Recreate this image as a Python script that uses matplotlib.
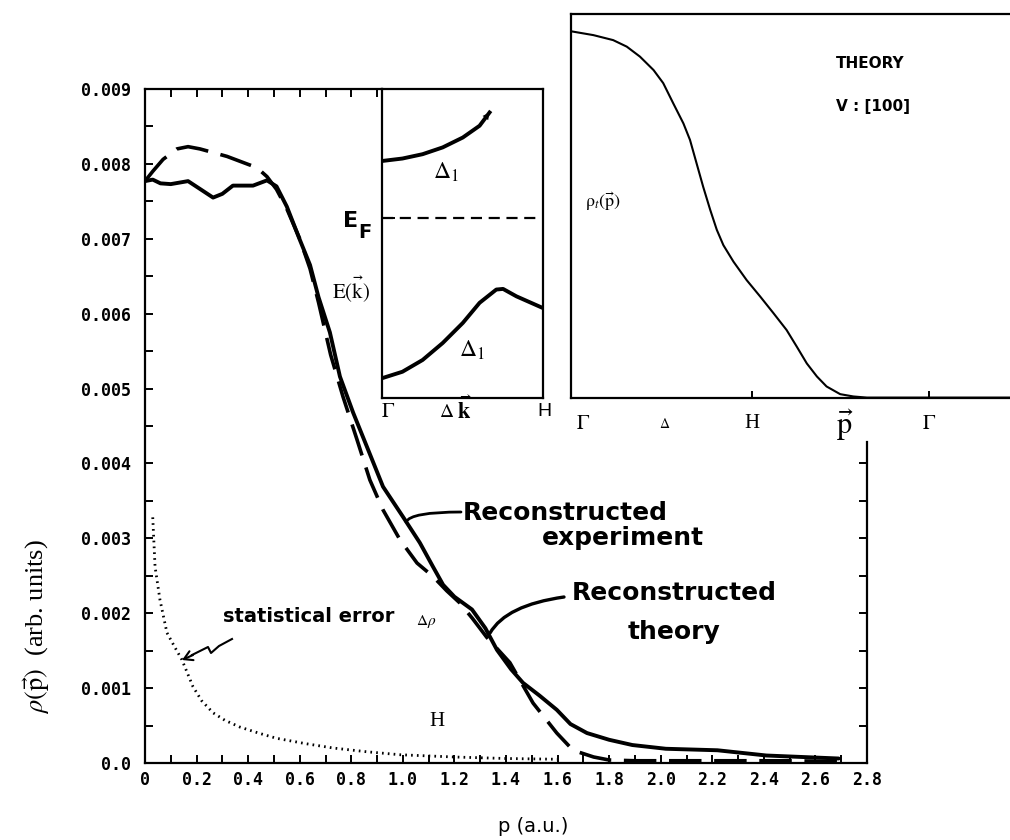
import matplotlib
matplotlib.use("Agg")
import matplotlib.pyplot as plt
import numpy as np
from matplotlib.lines import Line2D

plt.rcParams['mathtext.fontset'] = 'stix'

# ---------------- data ----------------
p_exp = [0.0, 0.03, 0.06, 0.10, 0.167, 0.22, 0.264, 0.30, 0.341, 0.419, 0.473,
         0.51, 0.55, 0.60, 0.64, 0.673, 0.717, 0.756, 0.807, 0.861, 0.923, 1.0,
         1.066, 1.117, 1.156, 1.20, 1.268, 1.32, 1.365, 1.42, 1.466, 1.53,
         1.597, 1.65, 1.714, 1.80, 1.89, 2.02, 2.22, 2.41, 2.55, 2.69]
rho_exp = [0.00777, 0.00779, 0.00774, 0.00773, 0.00777, 0.00765, 0.00755, 0.00760,
           0.00771, 0.00771, 0.00778, 0.00770, 0.00743, 0.00699, 0.00665, 0.00622,
           0.00575, 0.00516, 0.00468, 0.00422, 0.00369, 0.00329, 0.00294, 0.00262,
           0.00238, 0.00222, 0.00205, 0.00180, 0.00151, 0.00125, 0.00107, 0.00090,
           0.00071, 0.00052, 0.00040, 0.00031, 0.00024, 0.00019, 0.00017, 0.00010,
           0.00008, 0.00006]

p_th = [0.0, 0.03, 0.07, 0.124, 0.167, 0.213, 0.318, 0.395, 0.434, 0.473, 0.51,
        0.55, 0.60, 0.64, 0.673, 0.72, 0.768, 0.822, 0.872, 0.923, 0.989, 1.055,
        1.117, 1.17, 1.22, 1.27, 1.325, 1.415, 1.505, 1.597, 1.66, 1.74, 1.80,
        1.9, 2.1, 2.3, 2.5, 2.7]
rho_th = [0.00777, 0.00790, 0.00806, 0.00820, 0.00823, 0.00820, 0.00810, 0.00800,
          0.00795, 0.00783, 0.00766, 0.00740, 0.00700, 0.00660, 0.00615, 0.00545,
          0.00489, 0.00432, 0.00378, 0.00338, 0.00298, 0.00267, 0.00249, 0.00230,
          0.00214, 0.00193, 0.00168, 0.00134, 0.00080, 0.00040, 0.00017, 0.00008,
          0.00004, 0.00003, 0.00003, 0.00003, 0.00003, 0.00002]

p_err = [0.03, 0.039, 0.058, 0.085, 0.115, 0.143, 0.186, 0.22, 0.264, 0.31, 0.368,
         0.44, 0.51, 0.62, 0.73, 0.86, 0.99, 1.2, 1.4, 1.6]
rho_err = [0.00328, 0.00262, 0.00218, 0.00174, 0.00155, 0.00138, 0.00102, 0.00083,
           0.00067, 0.00057, 0.00048, 0.00040, 0.00033, 0.00026, 0.00020, 0.00015,
           0.00011, 0.00008, 0.00006, 0.00005]

x_ticks = [0.0, 0.2, 0.4, 0.6, 0.8, 1.0, 1.2, 1.4, 1.6, 1.8, 2.0, 2.2, 2.4, 2.6, 2.8]
x_tick_labels = ["0", "0.2", "0.4", "0.6", "0.8", "1.0", "1.2", "1.4", "1.6",
                 "1.8", "2.0", "2.2", "2.4", "2.6", "2.8"]
y_ticks = [0.0, 0.001, 0.002, 0.003, 0.004, 0.005, 0.006, 0.007, 0.008, 0.009]
y_tick_labels = ["0.0", "0.001", "0.002", "0.003", "0.004", "0.005", "0.006",
                 "0.007", "0.008", "0.009"]

# band structure inset (normalised units)
k_up = [0.0, 0.127, 0.252, 0.377, 0.502, 0.606, 0.668]
E_up = [0.767, 0.775, 0.789, 0.811, 0.843, 0.881, 0.924]
k_low = [0.0, 0.127, 0.252, 0.377, 0.502, 0.606, 0.71, 0.752, 0.835, 1.0]
E_low = [0.064, 0.085, 0.123, 0.178, 0.243, 0.308, 0.351, 0.353, 0.329, 0.291]
E_fermi = 0.584

# theory inset (normalised units)
p_t = [0.0, 0.051, 0.096, 0.127, 0.157, 0.188, 0.210, 0.233, 0.256, 0.271, 0.286,
       0.301, 0.317, 0.332, 0.347, 0.370, 0.400, 0.431, 0.461, 0.491, 0.514, 0.537,
       0.560, 0.582, 0.613, 0.643, 0.674, 1.035]
rho_t = [0.955, 0.945, 0.932, 0.915, 0.889, 0.854, 0.820, 0.767, 0.715, 0.672, 0.611,
         0.550, 0.490, 0.438, 0.398, 0.355, 0.307, 0.264, 0.221, 0.177, 0.134, 0.090,
         0.056, 0.030, 0.010, 0.004, 0.001, 0.001]

# ---------------- figure ----------------
W, H = 1010, 840
def F(x, y):
    return (x / W, 1 - y / H)

fig = plt.figure(figsize=(10.1, 8.4), dpi=100)
ax = fig.add_axes([145 / W, 1 - 763 / H, 722 / W, (763 - 89) / H])
ax.set_xlim(0, 2.8)
ax.set_ylim(0, 0.009)

for s in ax.spines.values():
    s.set_linewidth(1.6)
ax.spines['top'].set_bounds(0, 0.919)
ax.spines['right'].set_bounds(0, 0.00428)

mono = dict(family='DejaVu Sans Mono', weight='bold', size=12)
ax.set_xticks(x_ticks)
ax.set_xticklabels(x_tick_labels, fontdict=mono)
ax.set_xticks(np.arange(0.1, 2.8, 0.2), minor=True)
ax.set_yticks(y_ticks)
ax.set_yticklabels(y_tick_labels, fontdict=mono)
ax.set_yticks(np.arange(0.0005, 0.009, 0.001), minor=True)
ax.tick_params(which='both', direction='in', length=6, width=1.4, top=False, right=False)
ax.tick_params(axis='y', pad=10)
ax.tick_params(axis='x', pad=6)

sec = ax.secondary_xaxis('top')
sec.set_xticks(np.arange(0.1, 0.95, 0.1))
sec.tick_params(direction='in', length=6, width=1.4, labeltop=False)
for s in sec.spines.values():
    s.set_visible(False)

secy = ax.secondary_yaxis('right')
secy.set_yticks(np.arange(0.0005, 0.00426, 0.0005))
secy.tick_params(direction='in', length=6, width=1.4, labelright=False)
for s in secy.spines.values():
    s.set_visible(False)

ax.plot(p_exp, rho_exp, color='k', lw=2.8, solid_joinstyle='round', solid_capstyle='round')
ax.plot(p_th, rho_th, color='k', lw=2.6, ls=(0, (9, 3.5)))
ax.plot(p_err, rho_err, color='k', lw=2.0, ls=(0, (0.6, 1.5)))

# axis labels
fig.text(*F(37, 627), r'$\rho(\vec{\mathrm{p}})$  (arb. units)', rotation=90,
         ha='center', va='center', fontsize=19, family='Liberation Serif')
fig.text(*F(533, 826), 'p (a.u.)', ha='center', va='center', fontsize=14)

# annotations main
bold = dict(family='DejaVu Sans', weight='bold')
fig.text(*F(463, 513), 'Reconstructed', ha='left', va='center', fontsize=18, **bold)
fig.text(*F(542, 538), 'experiment', ha='left', va='center', fontsize=18, **bold)
fig.text(*F(572, 593), 'Reconstructed', ha='left', va='center', fontsize=18, **bold)
fig.text(*F(628, 632), 'theory', ha='left', va='center', fontsize=18, **bold)
ax.annotate('', xy=F(406, 522), xytext=F(461, 512), xycoords='figure fraction',
            textcoords='figure fraction',
            arrowprops=dict(arrowstyle='-', lw=2,
                            connectionstyle='angle3,angleA=0,angleB=65',
                            shrinkA=0, shrinkB=0))
ax.annotate('', xy=F(490, 633), xytext=F(564, 597), xycoords='figure fraction',
            textcoords='figure fraction',
            arrowprops=dict(arrowstyle='-', lw=2.4,
                            connectionstyle='angle3,angleA=8,angleB=60',
                            shrinkA=0, shrinkB=0))

fig.text(*F(223, 617), 'statistical error', ha='left', va='center', fontsize=14, **bold)
fig.text(*F(426, 621), r'$\Delta\rho$', ha='center', va='center', fontsize=11)
fig.text(*F(437, 722), 'H', ha='center', va='center', fontsize=15, family='Liberation Serif')

sq_x = [232, 219, 211, 208, 200, 192]
sq_y = [639, 646, 653, 647, 651, 655]
fig.add_artist(Line2D([v / W for v in sq_x], [1 - v / H for v in sq_y],
                      transform=fig.transFigure, color='k', lw=1.5))
ax.annotate('', xy=F(182, 660), xytext=F(193, 655), xycoords='figure fraction',
            textcoords='figure fraction',
            arrowprops=dict(arrowstyle='->,head_length=0.6,head_width=0.35', lw=1.5,
                            shrinkA=0, shrinkB=0))

# E_F and E(k) labels
fig.text(*F(351, 221), 'E', ha='center', va='center', fontsize=16, **bold)
fig.text(*F(365, 233), 'F', ha='center', va='center', fontsize=14, **bold)
fig.text(*F(351, 289), r'$\mathrm{E}(\vec{\mathrm{k}})$', ha='center', va='center', fontsize=15)

# ---------------- band-structure inset ----------------
axE = fig.add_axes([382 / W, 1 - 398 / H, 161 / W, 309 / H])
axE.set_xlim(0, 1)
axE.set_ylim(0, 1)
for s in axE.spines.values():
    s.set_linewidth(1.6)
axE.set_xticks([])
axE.set_yticks([E_fermi])
axE.set_yticklabels([])
axE.tick_params(direction='in', length=9, width=1.4)
axE.plot(k_up, E_up, color='k', lw=2.8)
axE.annotate('', xy=(k_up[-1], E_up[-1]), xytext=(k_up[-2], E_up[-2]),
             arrowprops=dict(arrowstyle='-|>,head_length=0.5,head_width=0.25', lw=0,
                             color='k', shrinkA=0, shrinkB=0))
axE.plot(k_low, E_low, color='k', lw=2.8)
axE.axhline(E_fermi, color='k', lw=1.6, ls=(0, (5, 3)))
fig.text(*F(446, 172), r'$\Delta_{1}$', ha='center', va='center', fontsize=17)
fig.text(*F(472, 350), r'$\Delta_{1}$', ha='center', va='center', fontsize=17)
fig.text(*F(388, 411), r'$\Gamma$', ha='center', va='center', fontsize=15)
fig.text(*F(447, 411), r'$\Delta$', ha='center', va='center', fontsize=14)
fig.text(*F(464, 409), r'$\vec{\mathbf{k}}$', ha='center', va='center', fontsize=16)
fig.text(*F(544, 411), 'H', ha='center', va='center', fontsize=14, family='Liberation Sans')

# ---------------- theory inset ----------------
axT = fig.add_axes([571 / W, 1 - 398 / H, 454.5 / W, 384 / H])
axT.set_xlim(0, 1.035)
axT.set_ylim(0, 1)
for s in axT.spines.values():
    s.set_linewidth(1.6)
axT.set_xticks([0.412, 0.815])
axT.set_xticklabels([])
axT.set_yticks([])
axT.tick_params(direction='in', length=5, width=1.4)
axT.plot(p_t, rho_t, color='k', lw=1.5)
fig.text(*F(836, 63), 'THEORY', ha='left', va='center', fontsize=11, **bold)
fig.text(*F(836, 107), 'V : [100]', ha='left', va='center', fontsize=11, **bold)
fig.text(*F(585, 202), r'$\mathrm{\rho}_t(\vec{\mathrm{p}})$', ha='left', va='center', fontsize=13)
fig.text(*F(583, 423), r'$\Gamma$', ha='center', va='center', fontsize=15)
fig.text(*F(665, 424), r'$\Delta$', ha='center', va='center', fontsize=10)
fig.text(*F(752, 423), 'H', ha='center', va='center', fontsize=15, family='Liberation Serif')
fig.text(*F(845, 425), r'$\vec{\mathrm{p}}$', ha='center', va='center', fontsize=22)
fig.text(*F(929, 423), r'$\Gamma$', ha='center', va='center', fontsize=15)

fig.savefig('out.png', dpi=100, facecolor='white')
